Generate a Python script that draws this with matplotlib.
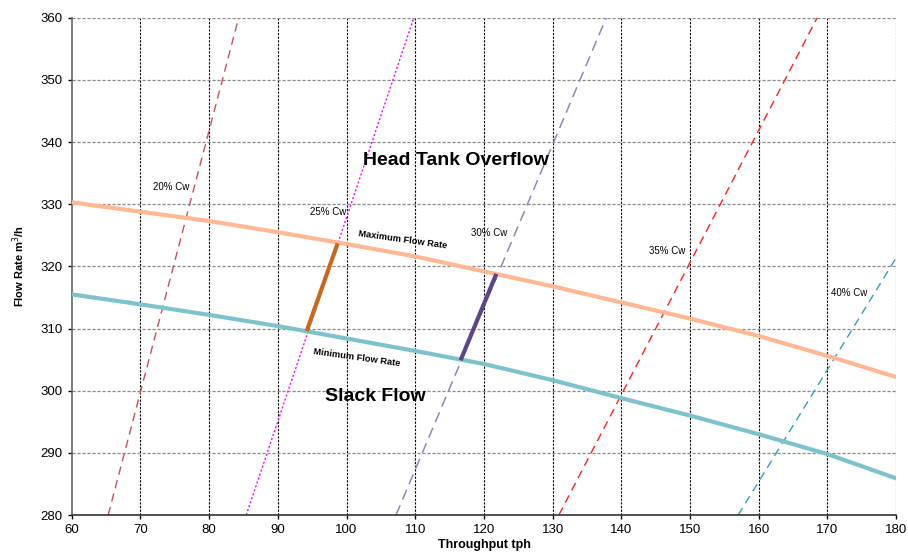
import matplotlib
matplotlib.use("Agg")
import matplotlib.pyplot as plt

plt.rcParams['font.family'] = ['Liberation Sans', 'DejaVu Sans']

# Operating envelope curves (Throughput tph -> Flow m3/h)
x_env = [60, 70, 80, 90, 100, 110, 120, 130, 140, 150, 160, 170, 180]
max_flow = [330.3, 328.8, 327.3, 325.5, 323.6, 321.6, 319.2, 316.8, 314.2, 311.6, 308.8, 305.6, 302.2]
min_flow = [315.5, 313.9, 312.2, 310.4, 308.4, 306.4, 304.3, 301.7, 298.8, 296.0, 293.0, 289.8, 285.9]

# Constant Cw lines (endpoints)
cw20_x = [65.3, 84.3]
cw20_y = [280, 360]
cw25_x = [85.4, 109.8]
cw25_y = [280, 360]
cw30_x = [107.2, 137.8]
cw30_y = [280, 360]
cw35_x = [130.9, 168.5]
cw35_y = [280, 360]
cw40_x = [157.0, 180.0]
cw40_y = [280, 321.4]

# Operating window segments
seg25_x = [94.2, 98.7]
seg25_y = [309.6, 323.7]
seg30_x = [116.6, 121.8]
seg30_y = [304.9, 318.8]

x_ticks = list(range(60, 181, 10))
y_ticks = list(range(280, 361, 10))

fig = plt.figure(figsize=(9.08, 5.55), dpi=100)
ax = fig.add_axes([0.079, 0.072, 0.908, 0.896])

ax.set_xlim(60, 180)
ax.set_ylim(280, 360)
ax.set_xticks(x_ticks)
ax.set_yticks(y_ticks)

# grid
for xv in x_ticks[1:]:
    ax.axvline(xv, color='black', lw=0.8, ls=(0, (2, 1.3)), zorder=1)
for yv in y_ticks[1:]:
    ax.axhline(yv, color='#888888', lw=0.9, ls=(0, (2.5, 1.5)), zorder=1)

ax.plot(x_env, max_flow, color='#FFB894', lw=3, zorder=3, solid_capstyle='butt')
ax.plot(x_env, min_flow, color='#7CC3CE', lw=3, zorder=3, solid_capstyle='butt')

ax.plot(cw20_x, cw20_y, color='#C9505A', lw=1, ls=(0, (6, 4)), zorder=2)
ax.plot(cw25_x, cw25_y, color='#FF00FF', lw=1, ls=(0, (1.5, 1.5)), zorder=2)
ax.plot(cw30_x, cw30_y, color='#9A82B4', lw=1.1, ls=(0, (7, 4)), zorder=2)
ax.plot(cw35_x, cw35_y, color='#FF2020', lw=1, ls=(0, (6, 4)), zorder=2)
ax.plot(cw40_x, cw40_y, color='#2EA3B4', lw=1, ls=(0, (6, 4)), zorder=2)

ax.plot(seg25_x, seg25_y, color='#C8691E', lw=3, zorder=4, solid_capstyle='butt')
ax.plot(seg30_x, seg30_y, color='#5E4686', lw=3, zorder=4, solid_capstyle='butt')

# labels
fs = 7
ax.text(74.5, 332.8, '20% Cw', fontsize=fs, ha='center', va='center')
ax.text(97.3, 328.8, '25% Cw', fontsize=fs, ha='center', va='center')
ax.text(120.8, 325.4, '30% Cw', fontsize=fs, ha='center', va='center')
ax.text(146.6, 322.5, '35% Cw', fontsize=fs, ha='center', va='center')
ax.text(173.2, 315.7, '40% Cw', fontsize=fs, ha='center', va='center')

ax.text(115.9, 337.1, 'Head Tank Overflow', fontsize=14, fontweight='bold', ha='center', va='center')
ax.text(104.2, 299.0, 'Slack Flow', fontsize=14, fontweight='bold', ha='center', va='center')
ax.text(108.2, 324.3, 'Maximum Flow Rate', fontsize=6.7, fontweight='bold', ha='center', va='center', rotation=-8)
ax.text(101.5, 305.4, 'Minimum Flow Rate', fontsize=6.7, fontweight='bold', ha='center', va='center', rotation=-8)

ax.set_xlabel('Throughput tph', fontsize=9, fontweight='bold', labelpad=2)
ax.set_ylabel('Flow Rate m$^{3}$/h', fontsize=8, fontweight='bold', labelpad=10)

ax.tick_params(axis='both', labelsize=9.5, length=3, width=1, direction='out')
for side in ['top', 'right']:
    ax.spines[side].set_visible(False)
ax.spines['left'].set_color('#666666')
ax.spines['left'].set_linewidth(1.2)
ax.spines['bottom'].set_color('#333333')
ax.spines['bottom'].set_linewidth(1.2)

fig.savefig('out.png', dpi=100)
